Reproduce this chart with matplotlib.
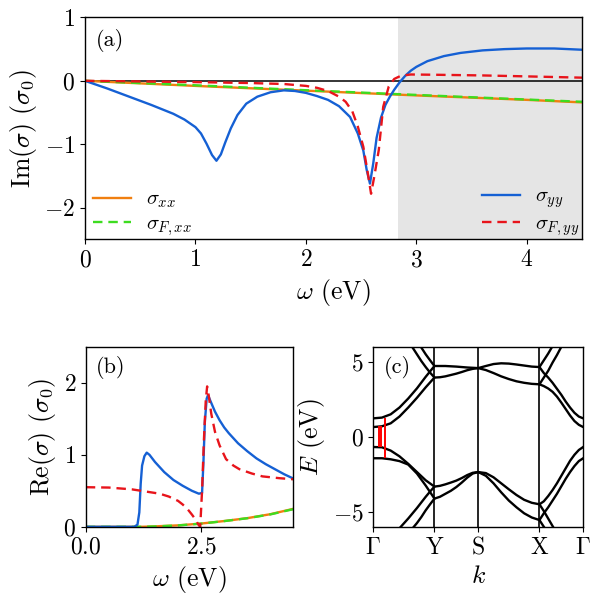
import numpy as np
import matplotlib
matplotlib.use("Agg")
import matplotlib.pyplot as plt

plt.rcParams['font.family'] = 'serif'
plt.rcParams['font.serif'] = ['cmr10', 'DejaVu Serif']
plt.rcParams['mathtext.fontset'] = 'cm'
plt.rcParams['axes.formatter.use_mathtext'] = True
plt.rcParams['axes.unicode_minus'] = True
plt.rcParams['font.size'] = 17
plt.rcParams['xtick.labelsize'] = 17
plt.rcParams['ytick.labelsize'] = 17
plt.rcParams['axes.labelsize'] = 18.5

# ---------------- colours ----------------
C_BLUE = '#1560d4'
C_RED = '#e8141b'
C_ORANGE = '#f07f10'
C_GREEN = '#3ddc20'

# ---------------- panel (a): Im(sigma) ----------------
im_yy_w = [0.0, 0.2, 0.4, 0.6, 0.8, 0.9, 1.0, 1.05, 1.1, 1.15, 1.19, 1.23, 1.27, 1.32, 1.38,
           1.46, 1.56, 1.68, 1.8, 1.9, 2.0, 2.1, 2.2, 2.3, 2.4, 2.47, 2.52, 2.55, 2.58, 2.61,
           2.64, 2.68, 2.72, 2.76, 2.8, 2.85, 2.9, 2.95, 3.0, 3.1, 3.25, 3.4, 3.6, 3.8, 4.0,
           4.25, 4.5]
im_yy = [0.0, -0.12, -0.25, -0.38, -0.52, -0.61, -0.73, -0.83, -0.99, -1.17, -1.26, -1.16,
         -0.97, -0.75, -0.54, -0.36, -0.25, -0.18, -0.15, -0.16, -0.19, -0.24, -0.30, -0.40,
         -0.57, -0.83, -1.10, -1.40, -1.62, -1.30, -0.90, -0.58, -0.38, -0.25, -0.14, -0.02,
         0.08, 0.16, 0.22, 0.31, 0.39, 0.44, 0.48, 0.50, 0.51, 0.51, 0.49]

im_Fyy_w = [0.0, 0.5, 1.0, 1.5, 1.8, 2.0, 2.1, 2.2, 2.3, 2.36, 2.42, 2.47, 2.52, 2.56, 2.59,
            2.62, 2.66, 2.70, 2.75, 2.80, 2.86, 2.95, 3.2, 3.6, 4.0, 4.5]
im_Fyy = [0.0, -0.01, -0.02, -0.035, -0.05, -0.08, -0.11, -0.16, -0.25, -0.33, -0.48, -0.72,
          -1.04, -1.45, -1.78, -1.50, -1.09, -0.41, -0.09, 0.03, 0.08, 0.10, 0.095, 0.085,
          0.07, 0.05]

im_xx_w = [0.0, 1.0, 2.0, 3.0, 4.0, 4.5]
im_xx = [0.0, -0.08, -0.155, -0.23, -0.30, -0.34]
im_Fxx = [0.0, -0.07, -0.148, -0.222, -0.295, -0.33]

gray_start = 2.83

# ---------------- panel (b): Re(sigma) ----------------
re_yy_w = [0.0, 1.05, 1.12, 1.16, 1.19, 1.22, 1.27, 1.32, 1.38, 1.5, 1.7, 1.9, 2.1, 2.3, 2.45,
           2.52, 2.55, 2.58, 2.62, 2.65, 2.7, 2.8, 2.9, 3.0, 3.1, 3.3, 3.5, 3.7, 3.9, 4.1, 4.3, 4.5]
re_yy = [0.0, 0.0, 0.03, 0.2, 0.6, 0.85, 0.98, 1.03, 1.0, 0.9, 0.76, 0.65, 0.57, 0.50, 0.46,
         0.47, 0.9, 1.45, 1.78, 1.83, 1.75, 1.60, 1.48, 1.38, 1.30, 1.16, 1.05, 0.95, 0.87,
         0.80, 0.73, 0.67]

re_Fyy_w = [0.0, 0.5, 1.0, 1.3, 1.6, 1.8, 2.0, 2.1, 2.2, 2.3, 2.38, 2.44, 2.48, 2.52, 2.56,
            2.60, 2.63, 2.67, 2.72, 2.8, 2.9, 3.04, 3.2, 3.33, 3.6, 3.83, 4.2, 4.5]
re_Fyy = [0.55, 0.545, 0.52, 0.49, 0.46, 0.42, 0.36, 0.31, 0.25, 0.17, 0.10, 0.03, 0.0, 0.5,
          1.2, 1.75, 1.95, 1.80, 1.57, 1.32, 1.13, 0.94, 0.85, 0.80, 0.74, 0.70, 0.675, 0.66]

re_xx_w = [0.0, 1.2, 1.5, 2.0, 2.5, 3.0, 3.5, 4.0, 4.5]
re_xx = [0.0, 0.0, 0.006, 0.02, 0.045, 0.08, 0.12, 0.175, 0.25]
re_Fxx = [0.0, 0.0, 0.005, 0.019, 0.044, 0.079, 0.119, 0.172, 0.245]

# ---------------- panel (c): band structure ----------------
k_ticks = [0.0, 1.4, 2.4, 3.8, 4.8]
k_labels = [r'$\Gamma$', r'$\mathrm{Y}$', r'$\mathrm{S}$', r'$\mathrm{X}$', r'$\Gamma$']

band_k = [0.0, 0.2, 0.4, 0.6, 0.8, 1.0, 1.2, 1.4,
          1.525, 1.65, 1.775, 1.9, 2.025, 2.15, 2.275, 2.4,
          2.575, 2.75, 2.925, 3.1, 3.275, 3.45, 3.625, 3.8,
          3.9, 4.0, 4.1, 4.2, 4.3, 4.4, 4.5, 4.6, 4.7, 4.8]
band_c1 = [0.65, 0.70, 0.90, 1.35, 1.95, 2.6, 3.3, 3.95,
           3.97, 4.03, 4.12, 4.21, 4.32, 4.44, 4.53, 4.58,
           4.45, 4.25, 4.03, 3.85, 3.70, 3.60, 3.53, 3.50,
           3.38, 3.22, 3.0, 2.68, 2.28, 1.85, 1.42, 1.05, 0.8, 0.65]
band_c2 = [1.23, 1.28, 1.50, 1.95, 2.55, 3.23, 4.0, 4.72,
           4.72, 4.72, 4.70, 4.68, 4.65, 4.62, 4.60, 4.58,
           4.72, 4.85, 4.90, 4.88, 4.82, 4.75, 4.68, 4.65,
           4.25, 3.95, 3.6, 3.2, 2.8, 2.35, 1.95, 1.6, 1.35, 1.23]
band_v1 = [-0.68, -0.70, -0.92, -1.30, -1.80, -2.35, -2.90, -3.32,
           -3.27, -3.17, -3.05, -2.92, -2.75, -2.55, -2.40, -2.35,
           -2.42, -2.70, -3.10, -3.50, -3.88, -4.20, -4.40, -4.50,
           -4.30, -3.95, -3.55, -3.10, -2.60, -2.10, -1.60, -1.20, -0.88, -0.68]
band_v2 = [-1.43, -1.43, -1.50, -1.62, -1.85, -2.45, -3.25, -4.12,
           -4.00, -3.80, -3.60, -3.35, -3.05, -2.72, -2.45, -2.35,
           -2.60, -3.10, -3.70, -4.25, -4.70, -5.10, -5.38, -5.55,
           -5.10, -4.70, -4.25, -3.80, -3.30, -2.80, -2.35, -1.95, -1.62, -1.43]

fold_d1_k = [1.0, 1.1, 1.2, 1.3, 1.4]
fold_d1_E = [6.4, 5.95, 5.5, 5.1, 4.72]
fold_d2_k = [0.8, 0.9, 1.0, 1.1, 1.2, 1.3, 1.4]
fold_d2_E = [6.4, 5.95, 5.5, 5.05, 4.65, 4.28, 3.95]
fold_u1_k = [0.5, 0.6, 0.8, 1.0, 1.2, 1.3, 1.4]
fold_u1_E = [-6.45, -6.1, -5.45, -4.75, -4.0, -3.65, -3.32]
fold_u2_k = [0.8, 0.9, 1.0, 1.1, 1.2, 1.3, 1.4]
fold_u2_E = [-6.45, -6.1, -5.75, -5.35, -4.9, -4.5, -4.12]
fold_uc1_k = [3.8, 3.9, 4.0, 4.1, 4.2]
fold_uc1_E = [4.65, 5.1, 5.55, 6.05, 6.5]
fold_uc2_k = [3.8, 3.9, 4.0, 4.1, 4.2, 4.3, 4.4]
fold_uc2_E = [3.5, 3.95, 4.4, 4.95, 5.45, 6.0, 6.5]
fold_dv1_k = [3.8, 3.9, 4.0, 4.1, 4.2]
fold_dv1_E = [-4.5, -4.95, -5.45, -5.95, -6.45]
fold_dv2_k = [3.8, 3.9, 4.0]
fold_dv2_E = [-5.55, -6.0, -6.45]

trans_k = [0.13, 0.17, 0.28]
trans_lo = [-0.70, -0.71, -1.43]
trans_hi = [0.69, 0.71, 1.26]

# ---------------- figure ----------------
fig = plt.figure(figsize=(6, 6), dpi=100)

# (a)
axa = fig.add_axes([0.1417, 0.601, 0.8283, 0.370])
axa.axvspan(gray_start, 4.5, color='#e5e5e5', lw=0, zorder=0)
axa.axhline(0, color='black', lw=1.1, zorder=1)
l_xx, = axa.plot(im_xx_w, im_xx, color=C_ORANGE, lw=1.7, label=r'$\sigma_{xx}$')
l_Fxx, = axa.plot(im_xx_w, im_Fxx, color=C_GREEN, lw=1.7, ls=(0, (4, 2.5)), label=r'$\sigma_{F,xx}$')
l_yy, = axa.plot(im_yy_w, im_yy, color=C_BLUE, lw=1.7, label=r'$\sigma_{yy}$')
l_Fyy, = axa.plot(im_Fyy_w, im_Fyy, color=C_RED, lw=1.7, ls=(0, (4, 2.5)), label=r'$\sigma_{F,yy}$')
axa.set_xlim(0, 4.5)
axa.set_ylim(-2.5, 1)
axa.set_xticks([0, 1, 2, 3, 4])
axa.set_yticks([-2, -1, 0, 1])
axa.set_xlabel(r'$\omega$ (eV)')
axa.set_ylabel(r'Im$(\sigma)$ $(\sigma_0)$')
axa.text(0.022, 0.95, '(a)', transform=axa.transAxes, va='top', ha='left', fontsize=16)
leg_kw = dict(frameon=False, fontsize=15, handlelength=1.8, handletextpad=0.75,
              borderaxespad=0.0, labelspacing=0.2)
leg1 = axa.legend(handles=[l_xx, l_Fxx], loc='lower left', bbox_to_anchor=(0.0, -0.03), **leg_kw)
axa.add_artist(leg1)
axa.legend(handles=[l_yy, l_Fyy], loc='lower right', bbox_to_anchor=(1.012, -0.03), **leg_kw)

# (b)
axb = fig.add_axes([0.143, 0.122, 0.346, 0.300])
axb.plot(re_xx_w, re_xx, color=C_ORANGE, lw=1.7)
axb.plot(re_xx_w, re_Fxx, color=C_GREEN, lw=1.7, ls=(0, (4, 2.5)))
axb.plot(re_yy_w, re_yy, color=C_BLUE, lw=1.7)
axb.plot(re_Fyy_w, re_Fyy, color=C_RED, lw=1.7, ls=(0, (4, 2.5)))
axb.set_xlim(0, 4.5)
axb.set_ylim(0, 2.5)
axb.set_xticks([0.0, 2.5])
axb.set_xticklabels([r'$0.0$', r'$2.5$'])
axb.set_yticks([0, 1, 2])
axb.set_xlabel(r'$\omega$ (eV)')
axb.set_ylabel(r'Re$(\sigma)$ $(\sigma_0)$')
axb.text(0.05, 0.95, '(b)', transform=axb.transAxes, va='top', ha='left', fontsize=16)

# (c)
axc = fig.add_axes([0.622, 0.122, 0.350, 0.300])
for kk in k_ticks[1:-1]:
    axc.axvline(kk, color='black', lw=1.2)
for eb in (band_c1, band_c2, band_v1, band_v2):
    axc.plot(band_k, eb, color='black', lw=1.7)
for kk, ee in ((fold_d1_k, fold_d1_E), (fold_d2_k, fold_d2_E), (fold_u1_k, fold_u1_E),
               (fold_u2_k, fold_u2_E), (fold_uc1_k, fold_uc1_E), (fold_uc2_k, fold_uc2_E),
               (fold_dv1_k, fold_dv1_E), (fold_dv2_k, fold_dv2_E)):
    axc.plot(kk, ee, color='black', lw=1.7)
axc.vlines(trans_k, trans_lo, trans_hi, color='red', lw=1.4, zorder=5)
axc.set_xlim(k_ticks[0], k_ticks[-1])
axc.set_ylim(-6, 6)
axc.set_xticks(k_ticks)
axc.set_xticklabels(k_labels)
axc.set_yticks([-5, 0, 5])
axc.set_xlabel(r'$k$')
axc.set_ylabel(r'$E$ (eV)')
axc.text(0.05, 0.95, '(c)', transform=axc.transAxes, va='top', ha='left', fontsize=16)

for ax in (axa, axb, axc):
    for s in ax.spines.values():
        s.set_linewidth(1.0)

fig.savefig('out.png', dpi=100)
